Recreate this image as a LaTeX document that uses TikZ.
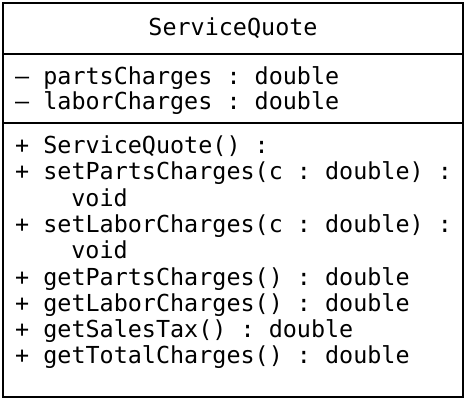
\documentclass[tikz,border=0pt]{standalone}
\usepackage{fontspec}
\setmonofont{DejaVu Sans Mono}
\tikzset{
	umltext/.style = {inner sep=0pt, font=\ttfamily\fontsize{23.4}{27.5}\selectfont},
	classname/.style = {umltext, anchor=base},
	member/.style = {umltext, anchor=base west},
}
\begin{document}
\begin{tikzpicture}[x = 1pt, y = -1pt]
	\useasboundingbox (0,0) rectangle (466,400);

	% Box
	\draw[line width = 1.6pt] (3,3) rectangle (463,397);
	\draw[line width = 1.2pt] (3,54) -- (463,54);
	\draw[line width = 1.2pt] (3,123) -- (463,123);

	% Nodes
	\node[classname] (name) at (233,35) {ServiceQuote};

	\node[member] (parts) at (15,84) {– partsCharges : double};
	\node[member] (labor) at (15,109) {– laborCharges : double};

	\node[member] (ctor) at (15,153.5) {+ ServiceQuote() :};
	\node[member] (setparts) at (15,179.8) {+ setPartsCharges(c : double) :};
	\node[member] (setpartsret) at (71.2,206.1) {void};
	\node[member] (setlabor) at (15,232.4) {+ setLaborCharges(c : double) :};
	\node[member] (setlaborret) at (71.2,258.7) {void};
	\node[member] (getparts) at (15,285) {+ getPartsCharges() : double};
	\node[member] (getlabor) at (15,311.3) {+ getLaborCharges() : double};
	\node[member] (gettax) at (15,337.6) {+ getSalesTax() : double};
	\node[member] (gettotal) at (15,363.9) {+ getTotalCharges() : double};
\end{tikzpicture}
\end{document}
